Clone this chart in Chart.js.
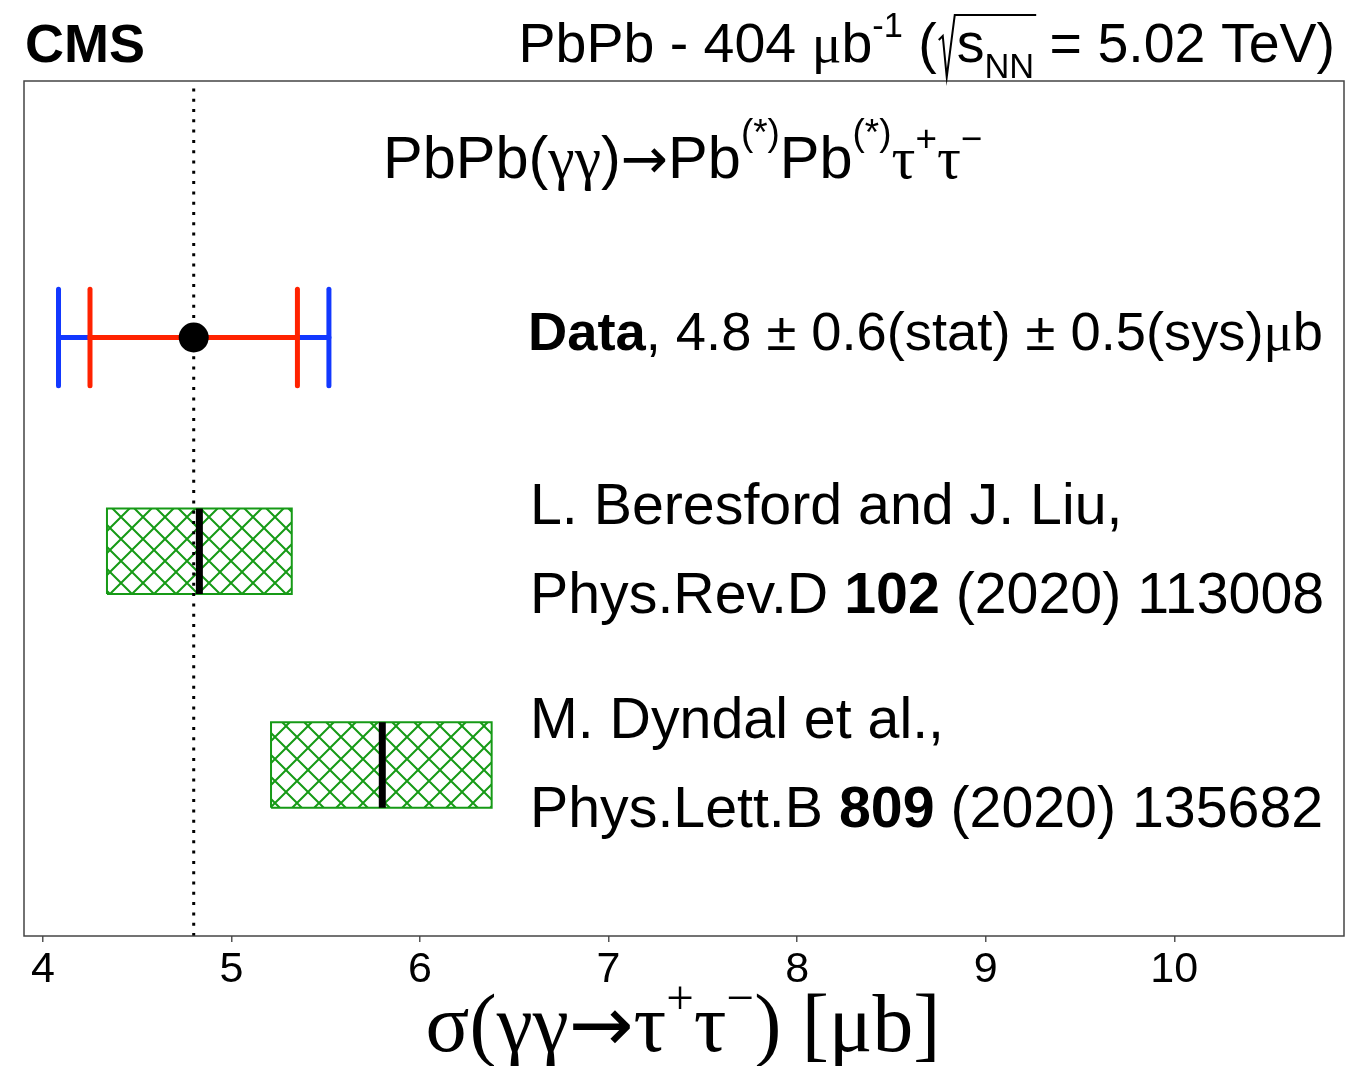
<!DOCTYPE html>
<html>
<head>
<meta charset="utf-8">
<script src="https://cdn.jsdelivr.net/npm/chart.js@4.4.1/dist/chart.umd.min.js"></script>
<style>
    html, body { margin: 0; padding: 0; background: #fff; }
    #wrap { position: relative; width: 1367px; height: 1066px; }
</style>
</head>
<body>
<div id="wrap"><canvas id="xsecChart"></canvas></div>
<script>
// measured cross section and its uncertainties (μb)
const dataValue = 4.8;
const statErr = 0.55;
const sysErr = 0.46;
const dataRow = 14;

// theory predictions: central value and band edges (μb)
const theoryCentral = [4.83, 5.80];
const theoryLow = [4.34, 5.21];
const theoryHigh = [5.32, 6.38];
const theoryRow = [9, 4];
const theoryAuthors = ["L. Beresford and J. Liu,", "M. Dyndal et al.,"];
const theoryJournal = ["Phys.Rev.D", "Phys.Lett.B"];
const theoryVolume = ["102", "809"];
const theoryYear = ["2020", "2020"];
const theoryPage = ["113008", "135682"];

const xTicks = [4, 5, 6, 7, 8, 9, 10];

const SANS = '"Liberation Sans", Arial, Helvetica, sans-serif';
const SERIF = '"Liberation Serif", "DejaVu Serif", serif';
const ARROW = '"DejaVu Sans", sans-serif';
const RED = "#ff2200";
const BLUE = "#1238ff";
const GREEN = "#169a16";
const capHalf = 1.13;
const boxHalf = 1.0;

const totErr = Math.hypot(statErr, sysErr);

// cross-hatch fill for the theory bands
function hatchPattern(color) {
    const s = 22;
    const c = document.createElement("canvas");
    c.width = s;
    c.height = s;
    const g = c.getContext("2d");
    g.strokeStyle = color;
    g.lineWidth = 2;
    g.beginPath();
    [-s, 0, s].forEach(d => {
        g.moveTo(-2 + d, -2);
        g.lineTo(s + 2 + d, s + 2);
        g.moveTo(s + 2 + d, -2);
        g.lineTo(-2 + d, s + 2);
    });
    g.stroke();
    return document.getElementById("xsecChart").getContext("2d").createPattern(c, "repeat");
}

function lineSet(points, color, width, extra) {
    return Object.assign({
        data: points,
        showLine: true,
        borderColor: color,
        borderWidth: width,
        borderCapStyle: "round",
        pointRadius: 0,
        pointHoverRadius: 0,
        fill: false
    }, extra || {});
}

function errorBar(lo, hi, y, color) {
    return [
        lineSet([{ x: lo, y: y - capHalf }, { x: lo, y: y + capHalf }], color, 5),
        lineSet([{ x: hi, y: y - capHalf }, { x: hi, y: y + capHalf }], color, 5),
        lineSet([{ x: lo, y: y }, { x: hi, y: y }], color, 5)
    ];
}

const hatch = hatchPattern(GREEN);

const datasets = [];
// first entries are drawn on top
datasets.push({
    data: [{ x: dataValue, y: dataRow }],
    pointRadius: 15,
    pointHoverRadius: 15,
    pointBorderWidth: 0,
    backgroundColor: "#000",
    borderColor: "#000"
});
datasets.push(...errorBar(dataValue - statErr, dataValue + statErr, dataRow, RED));
datasets.push(...errorBar(dataValue - totErr, dataValue + totErr, dataRow, BLUE));
datasets.push(lineSet([{ x: dataValue, y: 0 }, { x: dataValue, y: 20 }], "#000", 3,
    { borderDash: [3, 7.3], borderCapStyle: "butt" }));
theoryCentral.forEach((c, i) => {
    datasets.push(lineSet([{ x: c, y: theoryRow[i] - boxHalf }, { x: c, y: theoryRow[i] + boxHalf }],
        "#000", 7, { borderCapStyle: "butt" }));
});
theoryCentral.forEach((c, i) => {
    const r = theoryRow[i];
    datasets.push(lineSet([
        { x: theoryLow[i], y: r - boxHalf },
        { x: theoryHigh[i], y: r - boxHalf },
        { x: theoryHigh[i], y: r + boxHalf },
        { x: theoryLow[i], y: r + boxHalf },
        { x: theoryLow[i], y: r - boxHalf }
    ], GREEN, 2, { fill: "shape", backgroundColor: hatch, borderCapStyle: "butt" }));
});

// text with sub/superscripts, drawn piece by piece
function drawRich(ctx, segs, x, y, align) {
    const parts = segs.map(s => {
        const size = s.size;
        ctx.font = (s.bold ? "bold " : "") + size + "px " + (s.fam || SANS);
        return Object.assign({}, s, { font: ctx.font, w: s.gap != null ? s.gap : ctx.measureText(s.t).width });
    });
    const total = parts.reduce((a, p) => a + p.w, 0);
    let cx = x;
    if (align === "right") cx = x - total;
    if (align === "center") cx = x - total / 2;
    ctx.textAlign = "left";
    ctx.textBaseline = "alphabetic";
    ctx.fillStyle = "#000";
    parts.forEach(p => {
        p.x = cx;
        if (p.t) {
            ctx.font = p.font;
            ctx.fillText(p.t, cx, y + (p.dy || 0));
        }
        cx += p.w;
    });
    return parts;
}

const textPlugin = {
    id: "texts",
    afterDraw(chart) {
        const ctx = chart.ctx;
        const a = chart.chartArea;
        ctx.save();

        // frame
        ctx.strokeStyle = "#444";
        ctx.lineWidth = 1.5;
        ctx.strokeRect(a.left, a.top, a.right - a.left, a.bottom - a.top);

        drawRich(ctx, [{ t: "CMS", size: 54, bold: true }], 25, 62, "left");

        const H = 55.5;
        const head = drawRich(ctx, [
            { t: "PbPb - 404 ", size: H },
            { t: "μ", size: H, fam: SERIF },
            { t: "b", size: H },
            { t: "-1", size: H * 0.62, dy: -H * 0.45 },
            { t: " (", size: H },
            { gap: 20, size: H },
            { t: "s", size: H },
            { t: "NN", size: H * 0.62, dy: H * 0.28 },
            { t: " = 5.02 TeV)", size: H }
        ], 1335, 62, "right");
        // radical sign over s_NN
        const rx = head[5].x;
        const rEnd = head[8].x + 2;
        ctx.strokeStyle = "#000";
        ctx.lineWidth = 2;
        ctx.beginPath();
        ctx.moveTo(rx + 2, 40);
        ctx.lineTo(rx + 6, 36);
        ctx.lineTo(rx + 10, 77);
        ctx.lineTo(rx + 18, 15);
        ctx.lineTo(rEnd, 15);
        ctx.stroke();

        const P = 59.5;
        drawRich(ctx, [
            { t: "PbPb(", size: P },
            { t: "γγ", size: P, fam: SERIF },
            { t: ")", size: P },
            { t: "→", size: P * 0.95, fam: ARROW },
            { t: "Pb", size: P },
            { t: "(*)", size: P * 0.62, dy: -P * 0.55 },
            { t: "Pb", size: P },
            { t: "(*)", size: P * 0.62, dy: -P * 0.55 },
            { t: "τ", size: P, fam: SERIF },
            { t: "+", size: P * 0.62, dy: -P * 0.45 },
            { t: "τ", size: P, fam: SERIF },
            { t: "−", size: P * 0.62, dy: -P * 0.45 }
        ], 383, 178, "left");

        const D = 54.3;
        drawRich(ctx, [
            { t: "Data", size: D, bold: true },
            { t: ", " + dataValue.toFixed(1) + " ± " + statErr.toFixed(1) + "(stat) ± " +
                sysErr.toFixed(1) + "(sys)", size: D },
            { t: "μ", size: D, fam: SERIF },
            { t: "b", size: D }
        ], 528, 350, "left");

        const T = 57.3;
        const y = chart.scales.y;
        theoryAuthors.forEach((name, i) => {
            const cy = y.getPixelForValue(theoryRow[i]);
            drawRich(ctx, [{ t: name, size: T }], 530, cy - 27, "left");
            drawRich(ctx, [
                { t: theoryJournal[i] + " ", size: T },
                { t: theoryVolume[i], size: T, bold: true },
                { t: " (" + theoryYear[i] + ") " + theoryPage[i], size: T }
            ], 530, cy + 62, "left");
        });

        // axis title
        const X = 81.5;
        drawRich(ctx, [
            { t: "σ(γγ", size: X, fam: SERIF },
            { t: "→", size: X * 0.95, fam: ARROW },
            { t: "τ", size: X, fam: SERIF },
            { t: "+", size: X * 0.6, fam: SERIF, dy: -X * 0.45 },
            { t: "τ", size: X, fam: SERIF },
            { t: "−", size: X * 0.6, fam: SERIF, dy: -X * 0.45 },
            { t: ") [μb]", size: X, fam: SERIF }
        ], 683, 1051, "center");

        ctx.restore();
    }
};

new Chart(document.getElementById("xsecChart"), {
    type: "scatter",
    data: { datasets: datasets },
    options: {
        responsive: true,
        maintainAspectRatio: false,
        animation: false,
        events: [],
        layout: { padding: { left: 24, right: 23, top: 81, bottom: 0 } },
        plugins: {
            legend: { display: false },
            tooltip: { enabled: false }
        },
        scales: {
            x: {
                type: "linear",
                min: 3.9,
                max: 10.9,
                afterBuildTicks: s => { s.ticks = xTicks.map(v => ({ value: v })); },
                afterFit: s => { s.height = 130; },
                border: { display: false },
                grid: { drawOnChartArea: false, drawTicks: true, tickLength: 6, color: "#555", lineWidth: 1.5 },
                ticks: {
                    color: "#000",
                    font: { family: SANS, size: 43 },
                    padding: 2,
                    maxRotation: 0,
                    autoSkip: false
                }
            },
            y: { type: "linear", min: 0, max: 20, display: false }
        }
    },
    plugins: [textPlugin]
});
</script>
</body>
</html>
